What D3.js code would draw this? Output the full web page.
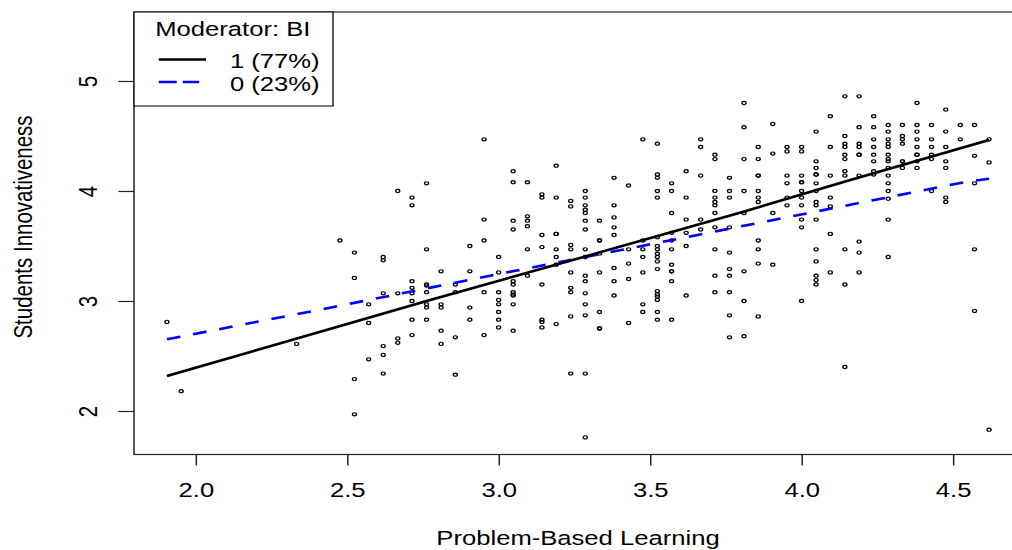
<!DOCTYPE html>
<html>
<head>
  <meta charset="UTF-8"/>
  <title>Students Innovativeness by Problem-Based Learning</title>
  <script src="https://d3js.org/d3.v7.min.js"></script>
  <style>
    body { margin: 0; background: #fff; }
    svg text { font-family: 'Liberation Sans', Arial, sans-serif; font-size: 20.5px; fill: #000; }
  </style>
</head>
<body>
<svg width="1012" height="550"></svg>
<script>
// x levels of Problem-Based Learning (points sit on a grid of 1/21)
var pblLevels = [1.905, 1.952, 2.333, 2.476, 2.524, 2.571, 2.619, 2.667, 2.714, 2.762,
  2.810, 2.857, 2.905, 2.952, 3.000, 3.048, 3.095, 3.143, 3.190, 3.238,
  3.286, 3.333, 3.381, 3.429, 3.476, 3.524, 3.571, 3.619, 3.667, 3.714,
  3.762, 3.810, 3.857, 3.905, 3.952, 4.000, 4.048, 4.095, 4.143, 4.190,
  4.238, 4.286, 4.333, 4.381, 4.429, 4.476, 4.524, 4.571, 4.619];

// Students Innovativeness values observed at each level
var innovByLevel = [
  [2.81], [2.18], [2.61], [3.55],
  [3.44, 3.21, 2.29, 1.97],
  [2.97, 2.80, 2.47],
  [3.40, 3.37, 3.07, 2.59, 2.51, 2.34],
  [4.00, 3.07, 2.66, 2.62],
  [3.94, 3.87, 3.18, 3.12, 3.07, 3.00, 2.83, 2.69],
  [4.07, 3.47, 3.15, 3.14, 3.08, 2.97, 2.94, 2.83],
  [3.27, 2.97, 2.94, 2.73, 2.61],
  [3.15, 3.08, 2.67, 2.33],
  [3.50, 3.27, 2.94, 2.83],
  [4.47, 3.74, 3.55, 3.08, 2.69],
  [3.40, 3.26, 3.08, 3.01, 2.97, 2.90, 2.83, 2.76],
  [4.18, 4.08, 3.73, 3.65, 3.18, 3.15, 3.08, 3.06, 3.05, 2.97, 2.73],
  [4.08, 3.77, 3.73, 3.68, 3.47, 3.23],
  [3.97, 3.94, 3.60, 3.49, 3.15, 2.83, 2.81, 2.76],
  [4.23, 3.94, 3.61, 3.61, 3.47, 3.40, 3.33, 2.79],
  [3.91, 3.86, 3.51, 3.47, 3.26, 3.12, 3.08, 2.86, 2.34],
  [4.00, 3.94, 3.87, 3.83, 3.80, 3.73, 3.65, 3.47, 3.40, 3.23, 3.18, 3.07, 2.97, 2.87, 2.34, 1.76],
  [3.73, 3.55, 3.55, 3.43, 3.26, 2.90, 2.75, 2.75],
  [4.12, 3.87, 3.76, 3.67, 3.60, 3.30, 3.18, 3.05],
  [4.05, 3.47, 3.34, 3.20, 2.80],
  [4.47, 3.55, 3.47, 3.40, 3.26, 2.97, 2.90],
  [4.43, 4.15, 4.12, 4.00, 3.94, 3.58, 3.50, 3.47, 3.43, 3.40, 3.36, 3.29, 3.09, 3.06, 3.04, 3.01, 2.90, 2.83],
  [4.07, 4.00, 3.80, 3.62, 3.55, 3.47, 3.33, 3.27, 3.27, 3.18, 2.83],
  [4.18, 3.94, 3.74, 3.62, 3.50, 3.05],
  [4.47, 4.40, 4.14, 3.74, 3.65],
  [4.33, 4.29, 4.00, 3.94, 3.90, 3.87, 3.80, 3.67, 3.47, 3.23, 3.08],
  [4.12, 4.00, 3.94, 3.67, 3.44, 3.29, 3.23, 3.08, 2.87, 2.67],
  [4.80, 4.58, 4.29, 4.00, 3.80, 3.27, 3.00, 2.68],
  [4.40, 4.29, 4.14, 4.14, 4.00, 3.94, 3.90, 3.55, 3.47, 3.34, 2.86],
  [4.61, 4.34, 3.80, 3.33],
  [4.40, 4.36, 4.14, 4.07, 3.94, 3.87],
  [4.40, 4.36, 4.14, 4.08, 4.08, 4.00, 3.94, 3.87, 3.74, 3.67, 3.00],
  [4.54, 4.27, 4.21, 4.15, 4.15, 4.07, 4.00, 3.90, 3.87, 3.74, 3.47, 3.36, 3.23, 3.19, 3.15],
  [4.68, 4.40, 4.14, 3.94, 3.86, 3.61, 3.26],
  [4.86, 4.50, 4.43, 4.40, 4.33, 4.29, 4.18, 4.14, 3.47, 3.15, 2.40],
  [4.86, 4.58, 4.43, 4.40, 4.33, 4.33, 4.14, 3.54, 3.44, 3.26],
  [4.68, 4.58, 4.47, 4.40, 4.33, 4.27, 4.18, 4.15],
  [4.60, 4.54, 4.47, 4.43, 4.40, 4.33, 4.29, 4.27, 4.21, 4.14, 4.07, 4.00, 3.93, 3.74, 3.40],
  [4.60, 4.50, 4.47, 4.43, 4.27, 4.27, 4.21],
  [4.80, 4.60, 4.54, 4.47, 4.40, 4.33, 4.33, 4.27, 4.21],
  [4.60, 4.47, 4.40, 4.33, 4.29, 4.00],
  [4.74, 4.54, 4.40, 4.27, 4.21, 3.94, 3.90],
  [4.60, 4.47],
  [4.60, 4.32, 4.07, 3.47, 2.91],
  [4.47, 4.26, 1.83]
];

// fitted lines per moderator group
var bi1X = [1.905, 2.774, 3.283, 3.808, 4.161, 4.619];
var bi1Y = [2.318, 3.009, 3.403, 3.812, 4.100, 4.464];
var bi0X = [1.905, 2.455, 2.972, 3.489, 4.018, 4.546, 4.619];
var bi0Y = [2.652, 2.945, 3.230, 3.509, 3.797, 4.085, 4.112];

var xTicks = [2.0, 2.5, 3.0, 3.5, 4.0, 4.5];
var xTickLabels = ["2.0", "2.5", "3.0", "3.5", "4.0", "4.5"];
var yTicks = [2, 3, 4, 5];
var yTickLabels = ["2", "3", "4", "5"];

var legendTitle = "Moderator: BI";
var legendLabels = ["1 (77%)", "0 (23%)"];

// the original picture is stretched sideways, so draw in a squeezed frame
var stretch = 1.25;
var svg = d3.select("svg");
var g = svg.append("g").attr("transform", "scale(" + stretch + ",1)");

var plotLeft = 107.2, plotRight = 817.6, plotTop = 12, plotBottom = 454.5;

var x = d3.scaleLinear().domain([1.7963, 4.7277]).range([plotLeft, plotRight]);
var y = d3.scaleLinear().domain([1.6045, 5.627]).range([plotBottom, plotTop]);

var points = pblLevels.flatMap(function(lv, i) {
  return innovByLevel[i].map(function(v) { return {x: lv, y: v}; });
});

// points
g.append("g").selectAll("circle")
  .data(points)
  .enter().append("circle")
    .attr("cx", function(d) { return x(d.x); })
    .attr("cy", function(d) { return y(d.y); })
    .attr("r", 1.6)
    .attr("fill", "none")
    .attr("stroke", "#000")
    .attr("stroke-width", 1.1);

var line = d3.line()
  .x(function(d) { return x(d[0]); })
  .y(function(d) { return y(d[1]); });

g.append("path")
  .datum(bi0X.map(function(v, i) { return [v, bi0Y[i]]; }))
  .attr("d", line)
  .attr("fill", "none")
  .attr("stroke", "#0000ff")
  .attr("stroke-width", 2.6)
  .attr("stroke-dasharray", "11,10.5");

g.append("path")
  .datum(bi1X.map(function(v, i) { return [v, bi1Y[i]]; }))
  .attr("d", line)
  .attr("fill", "none")
  .attr("stroke", "#000")
  .attr("stroke-width", 2.6);

// axes
var xAxis = g.append("g")
  .attr("transform", "translate(0," + plotBottom + ")")
  .call(d3.axisBottom(x).tickValues(xTicks)
    .tickFormat(function(d, i) { return xTickLabels[i]; })
    .tickSize(11));
xAxis.attr("font-size", null).attr("font-family", null);
xAxis.select(".domain").remove();
xAxis.selectAll("line").attr("stroke", "#222").attr("stroke-width", 1.2);
xAxis.selectAll("text").attr("y", 42.5).attr("dy", null);

var yAxis = g.append("g")
  .attr("transform", "translate(" + plotLeft + ",0)")
  .call(d3.axisLeft(y).tickValues(yTicks)
    .tickFormat(function(d, i) { return yTickLabels[i]; })
    .tickSize(12.5));
yAxis.attr("font-size", null).attr("font-family", null);
yAxis.select(".domain").remove();
yAxis.selectAll("line").attr("stroke", "#222").attr("stroke-width", 1.2);
yAxis.selectAll("text")
  .attr("x", null).attr("dy", null)
  .attr("text-anchor", "middle")
  .attr("transform", "translate(-29.6,0) rotate(-90)");

// plot frame
g.append("rect")
  .attr("x", plotLeft).attr("y", plotTop)
  .attr("width", plotRight - plotLeft).attr("height", plotBottom - plotTop)
  .attr("fill", "none")
  .attr("stroke", "#222")
  .attr("stroke-width", 1.2);

// axis titles
g.append("text")
  .attr("x", (plotLeft + plotRight) / 2)
  .attr("y", 545)
  .attr("text-anchor", "middle")
  .text("Problem-Based Learning");

g.append("text")
  .attr("transform", "translate(25.6,227) rotate(-90)")
  .attr("text-anchor", "middle")
  .text("Students Innovativeness");

// legend
var lg = g.append("g");
lg.append("rect")
  .attr("x", plotLeft).attr("y", plotTop)
  .attr("width", 266.4 - plotLeft).attr("height", 106 - plotTop)
  .attr("fill", "#fff")
  .attr("stroke", "#222")
  .attr("stroke-width", 1.2);
lg.append("text")
  .attr("x", 186.3).attr("y", 36)
  .attr("text-anchor", "middle")
  .text(legendTitle);
lg.append("line")
  .attr("x1", 127).attr("x2", 164.8)
  .attr("y1", 59.5).attr("y2", 59.5)
  .attr("stroke", "#000").attr("stroke-width", 2.6);
lg.append("line")
  .attr("x1", 127).attr("x2", 159.4)
  .attr("y1", 82).attr("y2", 82)
  .attr("stroke", "#0000ff").attr("stroke-width", 2.6)
  .attr("stroke-dasharray", "14.4,4.8");
lg.selectAll(".entry")
  .data(legendLabels)
  .enter().append("text")
    .attr("class", "entry")
    .attr("x", 184)
    .attr("y", function(d, i) { return 68 + i * 23.5; })
    .text(function(d) { return d; });
</script>
</body>
</html>
